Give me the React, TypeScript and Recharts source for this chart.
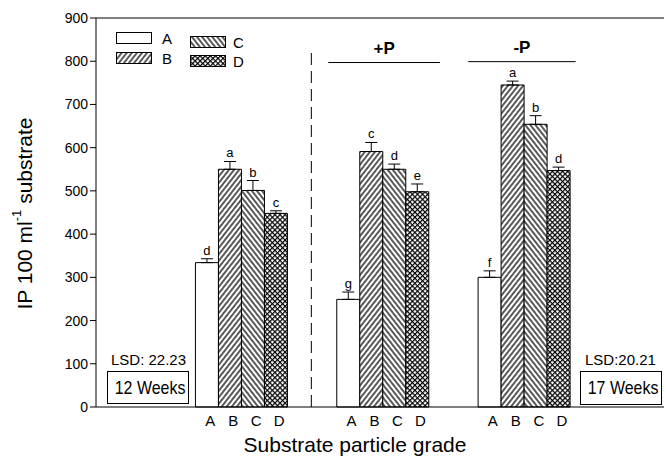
import React from 'react';
import { BarChart, Bar, XAxis, YAxis, ErrorBar, LabelList, ReferenceLine } from 'recharts';

const groups = ['12 Weeks', '+P', '-P'];
const grades = ['A', 'B', 'C', 'D'];
const valuesA = [334, 249, 300];
const valuesB = [550, 591, 745];
const valuesC = [501, 550, 654];
const valuesD = [448, 498, 547];
const errorsA = [9, 17, 15];
const errorsB = [18, 21, 9];
const errorsC = [23, 12, 20];
const errorsD = [6, 18, 8];
const lettersA = ['d', 'g', 'f'];
const lettersB = ['a', 'c', 'a'];
const lettersC = ['b', 'd', 'b'];
const lettersD = ['c', 'e', 'd'];
const yTicks = [0, 100, 200, 300, 400, 500, 600, 700, 800, 900];

const data = groups.map((g, i) => ({
  group: g,
  pos: i,
  A: valuesA[i],
  B: valuesB[i],
  C: valuesC[i],
  D: valuesD[i],
  errA: [0, errorsA[i]],
  errB: [0, errorsB[i]],
  errC: [0, errorsC[i]],
  errD: [0, errorsD[i]],
}));

const series = [
  { key: 'A', fill: '#ffffff', errors: errorsA, letters: lettersA },
  { key: 'B', fill: 'url(#hatchB)', errors: errorsB, letters: lettersB },
  { key: 'C', fill: 'url(#hatchC)', errors: errorsC, letters: lettersC },
  { key: 'D', fill: 'url(#hatchD)', errors: errorsD, letters: lettersD },
];

const FONT = '"Liberation Sans", Arial, Helvetica, sans-serif';

const letterLabel = (letters: string[], errors: number[]) => (props: any) => {
  const vb = props.viewBox || {};
  const x = props.x ?? vb.x;
  const y = props.y ?? vb.y;
  const width = props.width ?? vb.width;
  const height = props.height ?? vb.height;
  const index = props.index;
  const value = Number(props.value);
  if (index == null || !value) return null;
  const capY = y - (errors[index] * height) / value;
  return (
    <text x={x + width / 2} y={capY - 4} textAnchor="middle" fontSize={13} fontFamily={FONT} fill="#000">
      {letters[index]}
    </text>
  );
};

const GradeTick = (props: any) => {
  const { x, y } = props;
  return (
    <g>
      {grades.map((g, i) => (
        <text key={g} x={x + (i - 1.5) * 23 + 4} y={y} dy="0.71em" textAnchor="middle" fontSize={15} fontFamily={FONT} fill="#000">
          {g}
        </text>
      ))}
    </g>
  );
};

const YLabel = (props: any) => {
  const vb = props.viewBox || { x: 10, y: 18, width: 86, height: 389 };
  const cx = vb.x + 14;
  const cy = vb.y + vb.height / 2 + 1;
  return (
    <text x={cx} y={cy} transform={`rotate(-90 ${cx} ${cy})`} textAnchor="middle" dominantBaseline="central" fontSize={21} fontFamily={FONT} fill="#000">
      IP 100 ml<tspan dy={-8} fontSize={13}>-1</tspan>
      <tspan dy={8}> substrate</tspan>
    </text>
  );
};

const XLabel = (props: any) => {
  const vb = props.viewBox || { x: 96, y: 407, width: 568, height: 51 };
  return (
    <text x={vb.x + vb.width / 2 - 25} y={vb.y + vb.height - 6} textAnchor="middle" fontSize={21} fontFamily={FONT} fill="#000">
      Substrate particle grade
    </text>
  );
};

const Swatch = ({ fill }: { fill: string }) => (
  <svg width={36} height={12} style={{ display: 'block' }}>
    <rect x={0.5} y={0.5} width={35} height={11} fill={fill} stroke="#000" />
  </svg>
);

const weeksBox: React.CSSProperties = {
  position: 'absolute',
  width: 80,
  border: '1px solid #000',
  fontFamily: FONT,
  fontSize: 19,
  textAlign: 'center',
  whiteSpace: 'nowrap',
};

export default function App() {
  return (
    <div style={{ position: 'absolute', left: 0, top: 0, width: 666, height: 458, background: '#fff' }}>
      <BarChart
        width={666}
        height={458}
        data={data}
        margin={{ top: 18, right: 2, bottom: 0, left: 10 }}
        barGap={0}
        barCategoryGap="18%"
      >
        <defs>
          <pattern id="hatchB" width="4" height="4" patternUnits="userSpaceOnUse" patternTransform="rotate(38)">
            <rect width="4" height="4" fill="#fff" />
            <line x1="1" y1="0" x2="1" y2="4" stroke="#000" strokeWidth="1.3" />
          </pattern>
          <pattern id="hatchC" width="4" height="4" patternUnits="userSpaceOnUse" patternTransform="rotate(-38)">
            <rect width="4" height="4" fill="#fff" />
            <line x1="1" y1="0" x2="1" y2="4" stroke="#000" strokeWidth="1.3" />
          </pattern>
          <pattern id="hatchD" width="3.6" height="3.6" patternUnits="userSpaceOnUse" patternTransform="rotate(45)">
            <rect width="3.6" height="3.6" fill="#fff" />
            <line x1="0.6" y1="0" x2="0.6" y2="3.6" stroke="#000" strokeWidth="1.2" />
            <line x1="0" y1="0.6" x2="3.6" y2="0.6" stroke="#000" strokeWidth="1.2" />
          </pattern>
        </defs>
        <XAxis
          dataKey="group"
          type="category"
          padding={{ left: 74, right: 70 }}
          height={51}
          tickLine={false}
          axisLine={{ stroke: '#000' }}
          tick={<GradeTick />}
          interval={0}
          label={<XLabel />}
        />
        <XAxis
          xAxisId="num"
          dataKey="pos"
          type="number"
          domain={[-0.5, 2.5]}
          allowDataOverflow
          padding={{ left: 74, right: 70 }}
          hide
        />
        <YAxis
          domain={[0, 900]}
          ticks={yTicks}
          width={86}
          interval={0}
          tickSize={6}
          axisLine={{ stroke: '#000' }}
          tickLine={{ stroke: '#000' }}
          tick={{ fontSize: 14, fontFamily: FONT, fill: '#000' }}
          label={<YLabel />}
        />
        <YAxis yAxisId="right" orientation="right" width={0} domain={[0, 900]} tick={false} tickLine={false} axisLine={{ stroke: '#000' }} />
        <ReferenceLine y={900} stroke="#000" />
        <ReferenceLine
          xAxisId="num"
          segment={[{ x: 0.5, y: 0 }, { x: 0.5, y: 830 }]}
          stroke="#000"
          strokeDasharray="12 6"
          ifOverflow="visible"
        />
        <ReferenceLine
          xAxisId="num"
          segment={[{ x: 0.62, y: 797 }, { x: 1.41, y: 797 }]}
          stroke="#000"
          ifOverflow="visible"
          label={{ value: '+P', position: 'top', offset: 9, fontSize: 17, fontWeight: 'bold', fontFamily: FONT, fill: '#000' }}
        />
        <ReferenceLine
          xAxisId="num"
          segment={[{ x: 1.61, y: 799 }, { x: 2.37, y: 799 }]}
          stroke="#000"
          ifOverflow="visible"
          label={{ value: '-P', position: 'top', offset: 9, fontSize: 17, fontWeight: 'bold', fontFamily: FONT, fill: '#000' }}
        />
        {series.map((s) => (
          <Bar key={s.key} dataKey={s.key} fill={s.fill} stroke="#000" strokeWidth={1} isAnimationActive={false}>
            <ErrorBar dataKey={`err${s.key}`} width={6} stroke="#000" strokeWidth={1} direction="y" />
            <LabelList dataKey={s.key} content={letterLabel(s.letters, s.errors)} />
          </Bar>
        ))}
      </BarChart>

      {/* legend */}
      <div style={{ position: 'absolute', left: 116, top: 32, fontFamily: FONT, fontSize: 15 }}>
        {[['A', series[0].fill], ['B', series[1].fill]].map(([k, f], i) => (
          <div key={k} style={{ position: 'absolute', left: 0, top: i * 20, display: 'flex', alignItems: 'center', gap: 10, height: 12 }}>
            <Swatch fill={f} />
            <span>{k}</span>
          </div>
        ))}
        {[['C', series[2].fill], ['D', series[3].fill]].map(([k, f], i) => (
          <div key={k} style={{ position: 'absolute', left: 74, top: 4 + i * 19, display: 'flex', alignItems: 'center', gap: 7, height: 12 }}>
            <Swatch fill={f} />
            <span>{k}</span>
          </div>
        ))}
      </div>

      {/* annotations */}
      <div style={{ position: 'absolute', left: 111, top: 351, fontFamily: FONT, fontSize: 15, lineHeight: '18px', whiteSpace: 'nowrap' }}>LSD: 22.23</div>
      <div style={{ ...weeksBox, left: 107, top: 371, height: 31, lineHeight: '31px' }}>
        <span style={{ display: 'inline-block', transform: 'scaleX(0.84)' }}>12 Weeks</span>
      </div>
      <div style={{ position: 'absolute', left: 585, top: 351, fontFamily: FONT, fontSize: 15, lineHeight: '18px', whiteSpace: 'nowrap' }}>LSD:20.21</div>
      <div style={{ ...weeksBox, left: 580, top: 371, height: 32, lineHeight: '32px' }}>
        <span style={{ display: 'inline-block', transform: 'scaleX(0.84)' }}>17 Weeks</span>
      </div>
    </div>
  );
}
